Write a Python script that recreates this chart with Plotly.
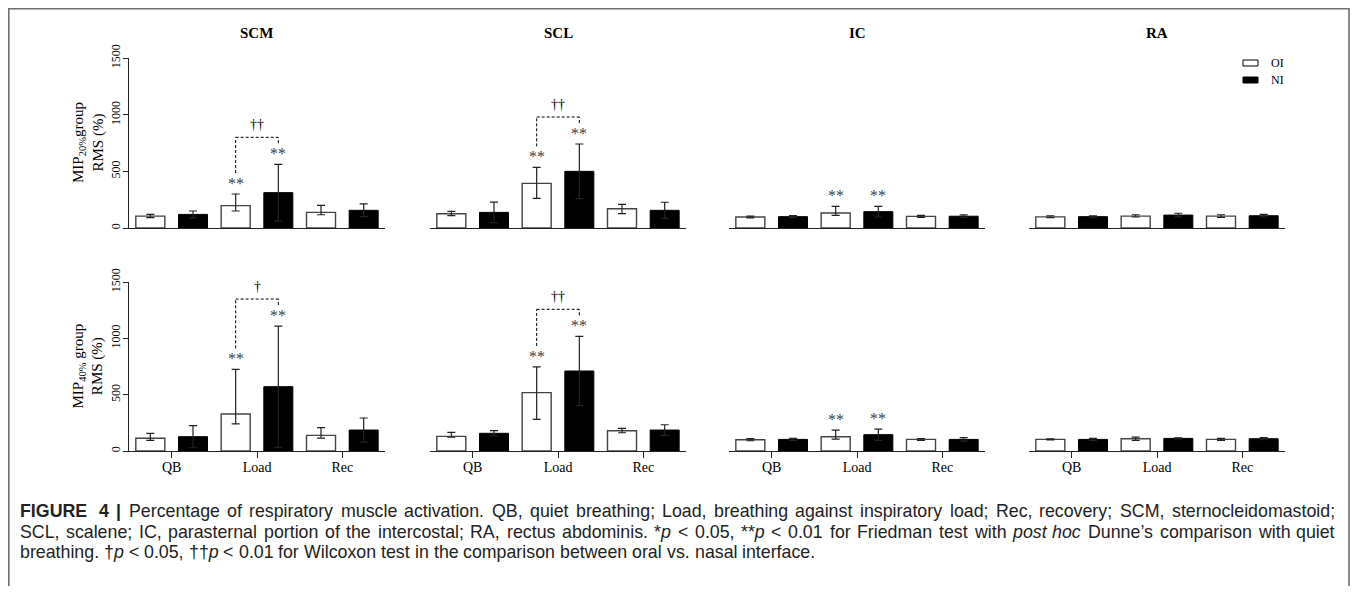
import re
import plotly.graph_objects as go

# target picture geometry (pixels) and the page's 8px body margin
PAGE_W, PAGE_H, OFF = 1358, 594, 8
W, H = PAGE_W - 2 * OFF, PAGE_H - 2 * OFF

categories = ["QB", "Load", "Rec"]
muscles = ["SCM", "SCL", "IC", "RA"]
row_labels = ["MIP<sub>20%</sub>group<br>RMS (%)", "MIP<sub>40%</sub> group<br>RMS (%)"]
y_ticks = [0, 500, 1000, 1500]

# ---- MIP 20% group (top row) ----
scm20_oi = [105, 197, 138]
scm20_oi_up = [15, 103, 62]
scm20_oi_dn = [14, 47, 21]
scm20_ni = [120, 312, 156]
scm20_ni_up = [30, 250, 56]

scl20_oi = [126, 394, 170]
scl20_oi_up = [21, 141, 39]
scl20_oi_dn = [17, 132, 44]
scl20_ni = [138, 500, 156]
scl20_ni_up = [91, 241, 71]

ic20_oi = [97, 132, 103]
ic20_oi_up = [8, 59, 9]
ic20_oi_dn = [8, 20, 10]
ic20_ni = [100, 144, 104]
ic20_ni_up = [9, 47, 11]

ra20_oi = [98, 105, 105]
ra20_oi_up = [10, 12, 12]
ra20_oi_dn = [6, 8, 11]
ra20_ni = [100, 114, 108]
ra20_ni_up = [8, 16, 12]

# ---- MIP 40% group (bottom row) ----
scm40_oi = [113, 328, 139]
scm40_oi_up = [44, 397, 68]
scm40_oi_dn = [18, 88, 24]
scm40_ni = [127, 571, 186]
scm40_ni_up = [98, 538, 107]

scl40_oi = [130, 518, 180]
scl40_oi_up = [36, 228, 21]
scl40_oi_dn = [8, 237, 18]
scl40_ni = [157, 710, 186]
scl40_ni_up = [23, 308, 47]

ic40_oi = [100, 127, 103]
ic40_oi_up = [9, 59, 8]
ic40_oi_dn = [9, 21, 8]
ic40_ni = [103, 145, 103]
ic40_ni_up = [9, 50, 15]

ra40_oi = [103, 109, 103]
ra40_oi_up = [5, 15, 9]
ra40_oi_dn = [5, 14, 9]
ra40_ni = [103, 112, 109]
ra40_ni_up = [9, 4, 9]

# significance: "**" above Load bars for these muscles; dagger brackets (top row, bottom row)
star_muscles = ["SCM", "SCL", "IC"]
star_category = "Load"
dagger_muscles = ["SCM", "SCL"]
dagger_top = ["††", "††"]
dagger_bottom = ["†", "††"]

caption_lines = [
    "<b>FIGURE</b> <b>4</b> <b>|</b> Percentage of respiratory muscle activation. QB, quiet breathing; Load, breathing against inspiratory load; Rec, recovery; SCM, sternocleidomastoid;",
    "SCL, scalene; IC, parasternal portion of the intercostal; RA, rectus abdominis. *<i>p</i> &lt; 0.05, **<i>p</i> &lt; 0.01 for Friedman test with <i>post</i> <i>hoc</i> Dunne’s comparison with quiet",
    "breathing. †<i>p</i> &lt; 0.05, ††<i>p</i> &lt; 0.01 for Wilcoxon test in the comparison between oral vs. nasal interface.",
]
caption_justify = [True, True, False]

rows = [
    [(scm20_oi, scm20_oi_up, scm20_oi_dn, scm20_ni, scm20_ni_up),
     (scl20_oi, scl20_oi_up, scl20_oi_dn, scl20_ni, scl20_ni_up),
     (ic20_oi, ic20_oi_up, ic20_oi_dn, ic20_ni, ic20_ni_up),
     (ra20_oi, ra20_oi_up, ra20_oi_dn, ra20_ni, ra20_ni_up)],
    [(scm40_oi, scm40_oi_up, scm40_oi_dn, scm40_ni, scm40_ni_up),
     (scl40_oi, scl40_oi_up, scl40_oi_dn, scl40_ni, scl40_ni_up),
     (ic40_oi, ic40_oi_up, ic40_oi_dn, ic40_ni, ic40_ni_up),
     (ra40_oi, ra40_oi_up, ra40_oi_dn, ra40_ni, ra40_ni_up)],
]

SERIF = "Liberation Serif, Times New Roman, serif"
SANS = "Liberation Sans, Arial, sans-serif"
AX = "#222222"

# layout geometry in target pixels
col_left = [129, 430, 729, 1029]
col_w = 256
row_y = [(58, 228), (282, 451)]  # (px of 1500, px of 0)


def fx(p):
    return (p - OFF) / W


def fy(p):
    return 1 - (p - OFF) / H


BAR_W = 0.34
OFF_OI = -0.42
OFF_NI = 0.08
C_OI = OFF_OI + BAR_W / 2
C_NI = OFF_NI + BAR_W / 2

fig = go.Figure()
layout = dict(
    width=W, height=H, margin=dict(l=0, r=0, t=0, b=0, pad=0, autoexpand=False),
    paper_bgcolor="white", plot_bgcolor="white",
    showlegend=False, barmode="overlay",
    font=dict(family=SERIF, color="black"),
)
annotations = []
shapes = []
xs = list(range(len(categories)))
load_i = categories.index(star_category)

for r in range(2):
    ytop, ybot = row_y[r]
    upp = (y_ticks[-1] - y_ticks[0]) / (ybot - ytop)  # data units per pixel
    for c in range(4):
        idx = r * 4 + c + 1
        xa = "x" if idx == 1 else f"x{idx}"
        ya = "y" if idx == 1 else f"y{idx}"
        oi, oi_up, oi_dn, ni, ni_up = rows[r][c]
        fig.add_trace(go.Bar(
            x=xs, y=oi, width=BAR_W, offset=OFF_OI, name="OI",
            marker=dict(color="white", line=dict(color="#444444", width=1.4)),
            error_y=dict(type="data", symmetric=False, array=oi_up, arrayminus=oi_dn,
                         color="#222222", thickness=1.2, width=4),
            xaxis=xa, yaxis=ya))
        fig.add_trace(go.Bar(
            x=xs, y=ni, width=BAR_W, offset=OFF_NI, name="NI",
            marker=dict(color="black", line=dict(color="black", width=1)),
            error_y=dict(type="data", array=ni_up, color="#222222", thickness=1.2, width=4),
            xaxis=xa, yaxis=ya))

        kx = "xaxis" if idx == 1 else f"xaxis{idx}"
        ky = "yaxis" if idx == 1 else f"yaxis{idx}"
        layout[kx] = dict(
            domain=[fx(col_left[c]), fx(col_left[c] + col_w)], anchor=ya,
            range=[-0.5, 2.5], showgrid=False, zeroline=False, automargin=False,
            showline=True, linecolor=AX, linewidth=1.2,
            tickvals=xs, ticktext=categories,
            ticks="outside" if r == 1 else "", ticklen=6, tickcolor=AX, tickwidth=1.2,
            showticklabels=(r == 1), ticklabelstandoff=-3,
            tickfont=dict(family=SERIF, size=14, color="black"),
            fixedrange=True,
        )
        layout[ky] = dict(
            domain=[fy(ybot), fy(ytop)], anchor=xa, automargin=False,
            range=[y_ticks[0], y_ticks[-1]], showgrid=False, zeroline=False,
            showline=(c == 0), linecolor=AX, linewidth=1.2,
            tickvals=y_ticks, ticks="outside" if c == 0 else "", ticklen=5,
            tickcolor=AX, tickwidth=1.2, showticklabels=(c == 0), tickangle=-90,
            ticklabelstandoff=-2,
            tickfont=dict(family=SERIF, size=12, color="black"),
            fixedrange=True,
        )
        if c == 0:
            annotations.append(dict(
                x=fx(88), y=fy((ytop + ybot) / 2), xref="paper", yref="paper",
                text=row_labels[r], textangle=-90, showarrow=False,
                font=dict(family=SERIF, size=15, color="black"),
                xanchor="center", yanchor="middle"))

        # panel titles
        if r == 0:
            annotations.append(dict(
                x=fx(col_left[c] + col_w / 2), y=fy(33), xref="paper", yref="paper",
                text=f"<b>{muscles[c]}</b>", showarrow=False,
                font=dict(family=SERIF, size=15, color="black"),
                xanchor="center", yanchor="middle"))

        # stars and dagger brackets
        m = muscles[c]
        if m in star_muscles:
            t_oi = oi[load_i] + oi_up[load_i]
            t_ni = ni[load_i] + ni_up[load_i]
            for xc, tt in ((load_i + C_OI, t_oi), (load_i + C_NI, t_ni)):
                annotations.append(dict(
                    x=xc, y=tt + 8 * upp, xref=xa, yref=ya, text="**", showarrow=False,
                    font=dict(family=SERIF, size=16, color="#404040"),
                    xanchor="center", yanchor="bottom", yshift=-8))
            if m in dagger_muscles:
                lab = (dagger_top if r == 0 else dagger_bottom)[dagger_muscles.index(m)]
                b_oi = t_oi + 21 * upp
                b_ni = t_ni + 21 * upp
                top = max(b_oi, b_ni) + 6 * upp
                dash = dict(color="black", width=1, dash="3px,2px")
                shapes.append(dict(type="line", xref=xa, yref=ya, x0=load_i + C_OI, x1=load_i + C_OI,
                                   y0=b_oi, y1=top, line=dash))
                shapes.append(dict(type="line", xref=xa, yref=ya, x0=load_i + C_NI, x1=load_i + C_NI,
                                   y0=b_ni, y1=top, line=dash))
                shapes.append(dict(type="line", xref=xa, yref=ya, x0=load_i + C_OI, x1=load_i + C_NI,
                                   y0=top, y1=top, line=dash))
                annotations.append(dict(
                    x=load_i, y=top + 13 * upp, xref=xa, yref=ya, text=lab, showarrow=False,
                    font=dict(family=SERIF, size=14, color="black"),
                    xanchor="center", yanchor="middle"))

# legend (swatches + labels)
for i, (nm, fill) in enumerate((("OI", "white"), ("NI", "black"))):
    yc = 63 + 17 * i
    shapes.append(dict(type="rect", xref="paper", yref="paper",
                       x0=fx(1243), x1=fx(1258), y0=fy(yc + 3), y1=fy(yc - 3),
                       fillcolor=fill, line=dict(color="black", width=1)))
    annotations.append(dict(x=fx(1269), y=fy(yc), xref="paper", yref="paper", text=nm,
                            showarrow=False, xanchor="left", yanchor="middle",
                            font=dict(family=SERIF, size=12, color="black")))

# frame
shapes.append(dict(type="rect", xref="paper", yref="paper", x0=fx(8.8), x1=fx(1349),
                   y0=fy(640), y1=fy(8.8), line=dict(color="#707070", width=1.6)))

# caption, word by word so lines 1-2 are justified like the reference
AW = {' ': 278, '%': 889, "'": 191, '(': 333, ')': 333, '*': 389, ',': 278, '-': 333, '.': 278,
      ':': 278, ';': 278, '<': 584, '|': 260, '’': 222, '†': 556,
      'A': 667, 'B': 667, 'C': 722, 'D': 722, 'E': 667, 'F': 611, 'G': 778, 'H': 722, 'I': 278,
      'J': 500, 'K': 667, 'L': 556, 'M': 833, 'N': 722, 'O': 778, 'P': 667, 'Q': 778, 'R': 722,
      'S': 667, 'T': 611, 'U': 722, 'V': 667, 'W': 944, 'X': 667, 'Y': 667, 'Z': 611,
      'a': 556, 'b': 556, 'c': 500, 'd': 556, 'e': 556, 'f': 278, 'g': 556, 'h': 556, 'i': 222,
      'j': 222, 'k': 500, 'l': 222, 'm': 833, 'n': 556, 'o': 556, 'p': 556, 'q': 556, 'r': 333,
      's': 500, 't': 278, 'u': 556, 'v': 500, 'w': 722, 'x': 500, 'y': 500, 'z': 500}
CAP_SIZE = 17.8


def word_width(tok):
    plain = re.sub(r"<[^>]+>", "", tok).replace("&lt;", "<")
    bold = "<b>" in tok
    w = sum(AW.get(ch, 556) for ch in plain)
    if bold:
        w *= 1.06
    return w / 1000 * CAP_SIZE


cap_left, cap_right = 19, 1334
for i, line in enumerate(caption_lines):
    toks = line.split(" ")
    widths = [word_width(t) for t in toks]
    natural_space = AW[' '] / 1000 * CAP_SIZE
    if caption_justify[i]:
        space = (cap_right - cap_left - sum(widths)) / (len(toks) - 1)
    else:
        space = natural_space
    xpos = cap_left
    for t, wdt in zip(toks, widths):
        annotations.append(dict(x=fx(xpos), y=fy(511 + 20.5 * i), xref="paper", yref="paper",
                                text=t, showarrow=False, xanchor="left", yanchor="middle",
                                borderpad=0,
                                font=dict(family=SANS, size=CAP_SIZE, color="#222222")))
        xpos += wdt + space

layout["annotations"] = annotations
layout["shapes"] = shapes
fig.update_layout(**layout)
fig.write_html("out.html")
